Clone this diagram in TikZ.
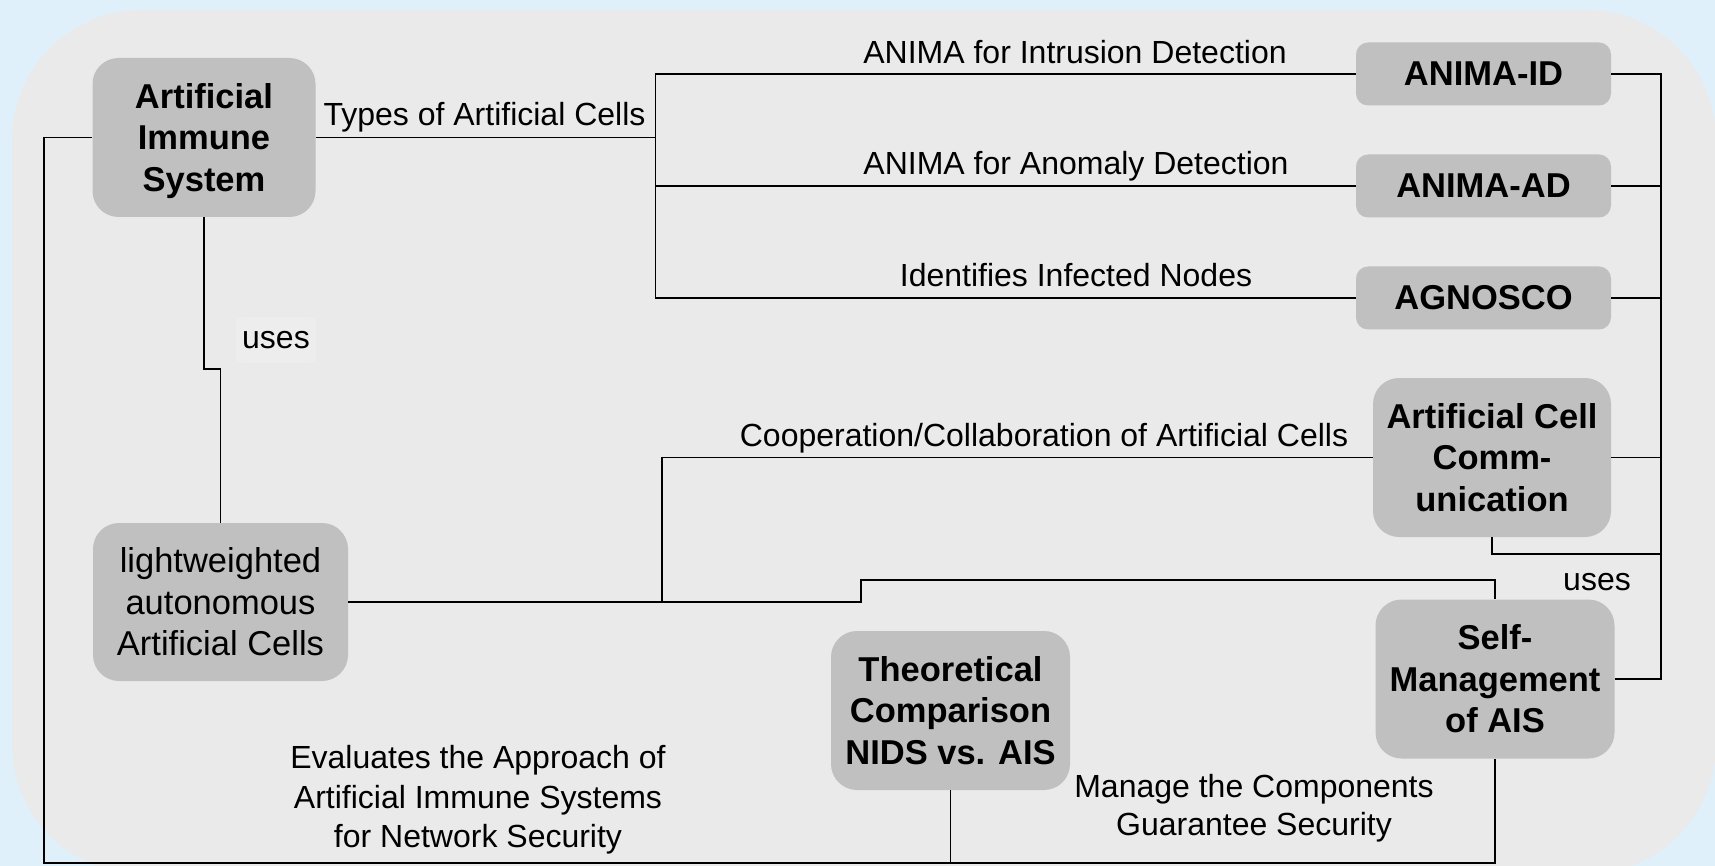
\documentclass[tikz,border=0pt]{standalone}
\usepackage{fontspec}
\setmainfont{Liberation Sans}
\definecolor{outerbg}{HTML}{DFF0FB}
\definecolor{panel}{HTML}{EAEAEA}
\definecolor{boxfill}{HTML}{C0C0C0}
\definecolor{usesbg}{HTML}{EDEDED}
\begin{document}
\begin{tikzpicture}[x=1pt,y=-1pt,
  box/.style={fill=boxfill, rounded corners=26pt, inner sep=0pt, align=center,
    font=\fontsize{34.5}{41.5}\selectfont\bfseries},
  smallbox/.style={box, rounded corners=12pt},
  plainbox/.style={box, font=\fontsize{34.5}{41.5}\selectfont},
  lbl/.style={inner sep=0pt, align=center, font=\fontsize{32}{39}\selectfont},
  conn/.style={draw=black, line width=1.8pt}]
\useasboundingbox (0,0) rectangle (1715,866);
\fill[outerbg] (0,0) rectangle (1715,866);
\begin{scope}
\clip (0,0) rectangle (1715,866);
\fill[panel, rounded corners=130pt] (12,10) rectangle (1716,874);
\end{scope}

% nodes
\node[box, minimum width=223pt, minimum height=159pt] (ais) at (204,137.5) {Artificial\\Immune\\\smash{System}};
\node[smallbox, minimum width=255pt, minimum height=63pt] (aid) at (1483.5,74) {ANIMA-ID};
\node[smallbox, minimum width=255pt, minimum height=63pt] (aad) at (1483.5,186) {ANIMA-AD};
\node[smallbox, minimum width=255pt, minimum height=63pt] (agn) at (1483.5,298) {AGNOSCO};
\node[box, minimum width=238pt, minimum height=159pt] (acc) at (1492,457.5) {Artificial Cell\\Comm-\\unication};
\node[box, minimum width=239pt, minimum height=159pt] (sm) at (1495,679) {Self-\\Management\\of AIS};
\node[box, minimum width=239pt, minimum height=159pt] (tc) at (950.5,710.5) {Theoretical\\Comparison\\NIDS vs. AIS};
\node[plainbox, minimum width=255pt, minimum height=158pt] (lw) at (220.5,602) {lightweighted\\autonomous\\Artificial Cells};

% junction coordinates
\coordinate (jt) at (655.5,137.5);
\coordinate (bustop) at (1661,74);
\coordinate (usesj) at (1661,554);
\coordinate (aisdrop) at (204,369);
\coordinate (stepa) at (861,602);
\coordinate (stepb) at (861,580);
\coordinate (coopj) at (662,602);
\coordinate (bl) at (44,863);

% connectors
\draw[conn] (ais.east) -- (jt);
\draw[conn] (jt) |- (aid.west);
\draw[conn] (jt) |- (aad.west);
\draw[conn] (jt) |- (agn.west);
\draw[conn] (aid.east) -- (bustop) |- (sm.east);
\draw[conn] (aad.east) -- (aad.east -| bustop);
\draw[conn] (agn.east) -- (agn.east -| bustop);
\draw[conn] (acc.east) -- (acc.east -| bustop);
\draw[conn] (acc.south) |- (usesj);
\draw[conn] (ais.south) -- (aisdrop) -| (lw.north);
\draw[conn] (lw.east) -- (stepa) -- (stepb) -| (sm.north);
\draw[conn] (coopj) |- (acc.west);
\draw[conn] (ais.west) -| (bl) -| (sm.south);
\draw[conn] (tc.south) -- (tc.south |- bl);

% labels
\node[lbl] (l1) at (484.5,117.5) {Types of Artificial Cells};
\node[lbl] (l2) at (1075,52) {ANIMA for Intrusion Detection};
\node[lbl] (l3) at (1076,166.5) {ANIMA for Anomaly Detection};
\node[lbl] (l4) at (1076,275.5) {Identifies Infected Nodes};
\node[lbl] (l5) at (1044,438.5) {Cooperation/Collaboration of Artificial Cells};
\node[lbl, fill=usesbg, rounded corners=5pt, inner xsep=6pt, inner ysep=14pt] (l6) at (276,340) {uses};
\node[lbl] (l7) at (1597,582) {uses};
\node[lbl, font=\fontsize{32}{39.5}\selectfont] (l8) at (478,800) {Evaluates the Approach of\\Artificial Immune Systems\\for Network Security};
\node[lbl, font=\fontsize{32}{37.5}\selectfont] (l9) at (1254,808) {Manage the Components\\Guarantee Security};
\end{tikzpicture}
\end{document}
